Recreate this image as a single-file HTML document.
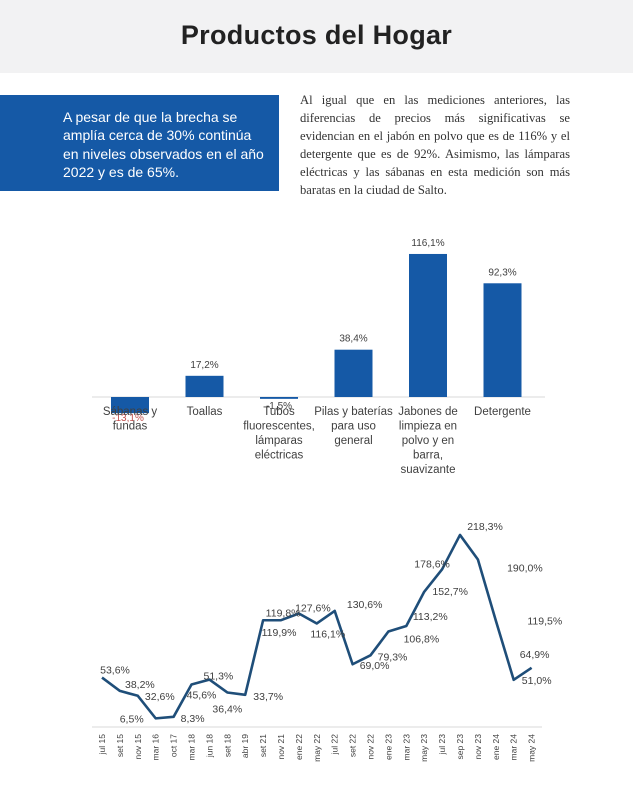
<!DOCTYPE html>
<html><head><meta charset="utf-8">
<style>
body{margin:0;width:633px;height:800px;background:#fff;position:relative;overflow:hidden;font-family:"Liberation Sans",sans-serif}
#hdr{position:absolute;left:0;top:0;width:633px;height:73px;background:#f2f2f3}
#title{position:absolute;left:0;top:20px;width:633px;text-align:center;font-size:27px;font-weight:bold;color:#222;letter-spacing:0.3px}
#box{position:absolute;left:0;top:95px;width:279px;height:96px;background:#1559a6}
#boxtxt{position:absolute;left:63px;top:108px;width:215px;color:#fff;font-size:14px;line-height:18.3px;white-space:nowrap}
#para{position:absolute;left:300px;top:92px;width:270px;font-family:"Liberation Serif",serif;font-size:12.6px;line-height:17.9px;color:#333}
#para span{display:block;text-align:justify;text-align-last:justify;white-space:nowrap}
#para span.last{text-align-last:left}
svg{position:absolute;left:0;top:0}
</style></head><body>
<div id="hdr"></div>
<div id="title">Productos del Hogar</div>
<div id="box"></div>
<div id="boxtxt">A pesar de que la brecha se<br>amplía cerca de 30% continúa<br>en niveles observados en el año<br>2022 y es de 65%.</div>
<div id="para"><span>Al igual que en las mediciones anteriores, las</span><span>diferencias de precios más significativas se</span><span>evidencian en el jabón en polvo que es de 116% y el</span><span>detergente que es de 92%. Asimismo, las lámparas</span><span>eléctricas y las sábanas en esta medición son más</span><span class="last">baratas en la ciudad de Salto.</span></div>
<svg id="chart" width="633" height="800"></svg>
<script>
const barCats=[["Sábanas y","fundas"],["Toallas"],["Tubos","fluorescentes,","lámparas","eléctricas"],["Pilas y baterías","para uso","general"],["Jabones de","limpieza en","polvo y en","barra,","suavizante"],["Detergente"]];
const barVals=[-13.1,17.2,-1.5,38.4,116.1,92.3];
const barLabels=["-13,1%","17,2%","-1,5%","38,4%","116,1%","92,3%"];
const lineCats=["jul 15","set 15","nov 15","mar 16","oct 17","mar 18","jun 18","set 18","abr 19","set 21","nov 21","ene 22","may 22","jul 22","set 22","nov 22","ene 23","mar 23","may 23","jul 23","sep 23","nov 23","ene 24","mar 24","may 24"];
const lineVals=[53.6,38.2,32.6,6.5,8.3,45.6,51.3,36.4,33.7,119.8,119.9,127.6,116.1,130.6,69.0,79.3,106.8,113.2,152.7,178.6,218.3,190.0,119.5,51.0,64.9];
const lineLabels=["53,6%","38,2%","32,6%","6,5%","8,3%","45,6%","51,3%","36,4%","33,7%","119,8%","119,9%","127,6%","116,1%","130,6%","69,0%","79,3%","106,8%","113,2%","152,7%","178,6%","218,3%","190,0%","119,5%","51,0%","64,9%"];
const NS="http://www.w3.org/2000/svg";
const svg=document.getElementById('chart');
function mk(t,a,txt){const e=document.createElementNS(NS,t);for(const k in a)e.setAttribute(k,a[k]);if(txt!==undefined)e.textContent=txt;svg.appendChild(e);return e;}
// bar chart
const bBase=397,bScale=1.232,bX0=130,bStep=74.5,bW=38;
const by=v=>bBase-v*bScale, bx=i=>bX0+i*bStep;
let e=mk('line',{x1:92,x2:545,y1:bBase,y2:bBase,stroke:'#d9d9d9','stroke-width':1});


barVals.forEach((v,i)=>{
  const y=Math.min(by(v),bBase),h=Math.max(Math.abs(v*bScale),1.5);
  let r=mk('rect',{x:bx(i)-bW/2,y:y,width:bW,height:h,fill:'#1559a6'});
  
  
  const ly=v>=0?by(v)-8:(v<-5?by(v)+8:bBase+12);
  let t=mk('text',{x:bx(i)+(v<-5?-2:0),y:ly,'text-anchor':'middle','font-size':10,fill:v<-5?'#c0504d':'#404040'},barLabels[i]);
  
  
  barCats[i].forEach((s,j)=>{
    let c=mk('text',{x:bx(i),y:415+j*14.5,'text-anchor':'middle','font-size':11.5,fill:'#404040'},s);
    
    
  });
});
// line chart
const lBase=724,lScale=0.866,lX0=102,lStep=17.9;
const ly=v=>lBase-v*lScale, lx=i=>lX0+i*lStep;
const offs=[[13,-8],[20,-7],[22,0],[-24,0],[19,1],[10,10],[9,-4],[0,16],[23,1],[20,-8],[-2,12],[14,-6],[11,10],[30,-7],[22,1],[22,1],[33,7],[24,-10],[26,-1],[-10,-6],[25,-9],[47,8],[49,0],[23,0],[3,-14]];
let ax=mk('line',{x1:92,x2:542,y1:lBase+3,y2:lBase+3,stroke:'#d9d9d9','stroke-width':1});


let pl=mk('polyline',{points:lineVals.map((v,i)=>lx(i)+','+ly(v)).join(' '),fill:'none',stroke:'#1f4e79','stroke-width':2.6,'stroke-linejoin':'round'});


lineVals.forEach((v,i)=>{
  let t=mk('text',{x:lx(i)+offs[i][0],y:ly(v)+offs[i][1]+4,'text-anchor':'middle','font-size':10.5,fill:'#404040'},lineLabels[i]);
  
  
  let c=mk('text',{x:0,y:0,'text-anchor':'end','font-size':8.5,fill:'#404040',transform:'translate('+(lx(i)+3)+','+(lBase+10)+') rotate(-90)'},lineCats[i]);
  
  
});
</script>
</body></html>
